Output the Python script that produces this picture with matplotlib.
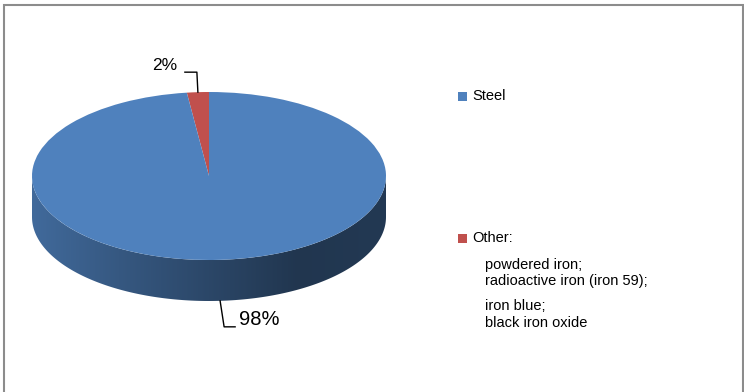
import matplotlib
matplotlib.use('Agg')
import matplotlib.pyplot as plt
import numpy as np
from matplotlib.patches import Rectangle, PathPatch
from matplotlib.path import Path
from matplotlib.lines import Line2D
from matplotlib.transforms import IdentityTransform
from matplotlib.colors import LinearSegmentedColormap, to_rgb

plt.rcParams['font.family'] = ['Liberation Sans', 'DejaVu Sans']

# data
categories = ['Other', 'Steel']
shares = [2, 98]
colors = ['#c0504d', '#4f81bd']
legend_order = ['Steel', 'Other']
other_items = ['powdered iron;', 'radioactive iron (iron 59);', 'iron blue;', 'black iron oxide']
label_sizes = [12.5, 14.5]

W, H = 744, 392
fig = plt.figure(figsize=(W / 100, H / 100), dpi=100)
px = IdentityTransform()

# pie geometry in image pixels (y down)
cx, cy, a, b, depth = 209, 176, 177, 84, 41
d = depth / b
ax = fig.add_axes([(cx - a) / W, 1 - (cy + b + depth) / H, 2 * a / W, (2 * b + depth) / H])

wedges, _ = ax.pie(shares, colors=colors, startangle=90, counterclock=True,
                   wedgeprops=dict(linewidth=0, zorder=3))

# side of the 3d pie: front part of every wedge, shaded left to right
for w, c in zip(wedges, colors):
    base = np.array(to_rgb(c))
    shade = [base * f for f in (0.82, 0.68, 0.55, 0.42, 0.44)]
    cmap = LinearSegmentedColormap.from_list('side', shade)
    for k in (-360, 0, 360):
        lo = max(w.theta1, 180 + k)
        hi = min(w.theta2, 360 + k)
        if lo >= hi:
            continue
        t = np.radians(np.linspace(lo, hi, 200))
        verts = np.concatenate([np.c_[np.cos(t), np.sin(t) - d],
                                np.c_[np.cos(t[::-1]), np.sin(t[::-1])]])
        patch = PathPatch(Path(verts, closed=True), facecolor='none', edgecolor='none')
        ax.add_patch(patch)
        im = ax.imshow(np.linspace(0, 1, 256)[None, :], extent=[-1, 1, -1 - d, 0],
                       cmap=cmap, aspect='auto', zorder=2, interpolation='bilinear')
        im.set_clip_path(patch)

ax.set_aspect('auto')
ax.set_xlim(-1, 1)
ax.set_ylim(-1 - d, 1)
ax.axis('off')

# percentage labels with leader lines
total = sum(shares)
for w, s, fs in zip(wedges, shares, label_sizes):
    m = np.radians((w.theta1 + w.theta2) / 2)
    x, y = np.cos(m), np.sin(m)
    front = y < 0
    if front:
        y -= d
    ax_x, ax_y = ax.transData.transform((x, y))
    txt = f'{s / total * 100:.0f}%'
    if front:
        xs = [ax_x, ax_x + 4, ax_x + 15]
        ys = [ax_y, ax_y - 26, ax_y - 26]
        fig.text(ax_x + 19, ax_y - 19, txt, transform=px, fontsize=fs,
                 ha='left', va='center')
    else:
        xs = [ax_x, ax_x - 1, ax_x - 13]
        ys = [ax_y, ax_y + 20, ax_y + 20]
        fig.text(ax_x - 33.5, ax_y + 27, txt, transform=px, fontsize=fs,
                 ha='center', va='center')
    fig.add_artist(Line2D(xs, ys, transform=px, color='black', linewidth=1.0))

# legend
leg_y = {'Steel': 96.5, 'Other': 238}
for name in legend_order:
    c = colors[categories.index(name)]
    yy = H - leg_y[name]
    fig.add_artist(Rectangle((458, yy - 4.5), 9, 9, transform=px, facecolor=c, edgecolor='none'))
    fig.text(472, yy, name + (':' if name == 'Other' else ''), transform=px,
             fontsize=10.5, ha='left', va='center')
for item, yi in zip(other_items, [265, 281, 306, 323]):
    fig.text(485, H - yi, item, transform=px, fontsize=10.5, ha='left', va='center')

# chart border
fig.add_artist(Rectangle((4, -5), 739, 392, transform=px, facecolor='none',
                         edgecolor='#8c8c8c', linewidth=1.5))

fig.savefig('out.png', dpi=100)
